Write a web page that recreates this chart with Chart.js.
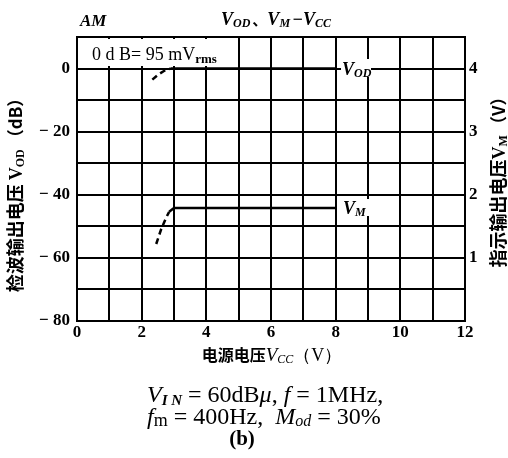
<!DOCTYPE html>
<html>
<head>
<meta charset="utf-8">
<script src="https://cdn.jsdelivr.net/npm/chart.js@4"></script>
<style>
  html, body { margin: 0; padding: 0; background: #fff; }
  #chart { display: block; }
</style>
</head>
<body>
<canvas id="chart" width="508" height="458"></canvas>
<script>
// V_OD (dB) vs Vcc, dashed part below ~2.9V
var vodX = [2.33, 2.5, 2.7, 2.9, 8];
var vodY = [-3.5, -2.0, -0.7, 0, 0];
// V_M (V, right axis) vs Vcc
var vmX = [2.45, 2.6, 2.75, 2.85, 3.0, 8];
var vmY = [1.22, 1.45, 1.63, 1.73, 1.79, 1.79];
var dashUntil = 2.9;

var xTicks = [0, 2, 4, 6, 8, 10, 12];
var leftTicks = [0, -20, -40, -60, -80];
var rightTicks = [1, 2, 3, 4];

var SERIF = '"Liberation Serif", "DejaVu Serif", serif';
var CJK = '"Noto Sans CJK SC", sans-serif';

function toPts(xs, ys) {
    var out = [];
    for (let i = 0; i < xs.length; i++) out.push({x: xs[i], y: ys[i]});
    return out;
}

function drawRich(ctx, x, y, parts, align) {
    var w = 0;
    parts.forEach(p => { ctx.font = p.f; p.w = ctx.measureText(p.t).width + (p.sp || 0); w += p.w; });
    var cx = align === 'center' ? x - w / 2 : (align === 'right' ? x - w : x);
    ctx.textAlign = 'left';
    ctx.textBaseline = 'alphabetic';
    parts.forEach(p => { ctx.font = p.f; ctx.fillText(p.t, cx, y + (p.dy || 0)); cx += p.w; });
}

var textPlugin = {
    id: 'texts',
    afterDraw(chart) {
        var ctx = chart.ctx;
        ctx.save();

        // white boxes behind in-plot labels
        ctx.fillStyle = '#fff';
        ctx.fillRect(80, 39, 152, 27);
        ctx.fillRect(341, 59, 30, 18);
        ctx.fillRect(341, 199, 28, 17);
        ctx.fillStyle = '#000';

        var bi = 'italic bold 18px ' + SERIF;
        var biS = 'italic bold 12px ' + SERIF;

        // top
        drawRich(ctx, 80, 26, [{t: 'AM', f: 'italic bold 17px ' + SERIF}], 'left');
        drawRich(ctx, 277, 25, [
            {t: 'V', f: bi}, {t: 'OD', f: biS, dy: 2, sp: 2}, {t: '、', f: 'bold 15px ' + CJK},
            {t: 'V', f: bi}, {t: 'M', f: biS, dy: 2, sp: 2}, {t: '−', f: bi},
            {t: 'V', f: bi}, {t: 'CC', f: biS, dy: 2, sp: 2}
        ], 'center');

        // 0 dB annotation
        drawRich(ctx, 92, 60, [
            {t: '0 d B= 95 mV', f: '18px ' + SERIF}, {t: 'rms', f: 'bold 13px ' + SERIF, dy: 3}
        ], 'left');

        // line labels
        drawRich(ctx, 342, 75, [{t: 'V', f: bi}, {t: 'OD', f: biS, dy: 2, sp: 1}], 'left');
        drawRich(ctx, 343, 214, [{t: 'V', f: bi}, {t: 'M', f: biS, dy: 2}], 'left');

        // x axis title
        drawRich(ctx, 272, 361, [
            {t: '电源电压', f: 'bold 16px ' + CJK},
            {t: 'V', f: 'italic 19px ' + SERIF}, {t: 'CC', f: 'italic 12px ' + SERIF, dy: 2},
            {t: '（V）', f: '18px ' + SERIF}
        ], 'center');

        // left y title
        ctx.save();
        ctx.translate(22, 191);
        ctx.rotate(-Math.PI / 2);
        drawRich(ctx, 0, 0, [
            {t: '检波输出电压 ', f: 'bold 18px ' + CJK},
            {t: 'V', f: 'bold 18px ' + SERIF}, {t: 'OD', f: 'bold 12px ' + SERIF, dy: 2, sp: 3},
            {t: '（dB）', f: 'bold 17px ' + CJK}
        ], 'center');
        ctx.restore();

        // right y title
        ctx.save();
        ctx.translate(505, 178);
        ctx.rotate(-Math.PI / 2);
        drawRich(ctx, 0, 0, [
            {t: '指示输出电压', f: 'bold 18px ' + CJK},
            {t: 'V', f: 'bold 18px ' + SERIF}, {t: 'M', f: 'bold 12px ' + SERIF, dy: 2, sp: 2},
            {t: '（V）', f: 'bold 17px ' + CJK}
        ], 'center');
        ctx.restore();

        // conditions
        var n = '24px ' + SERIF, it = 'italic 24px ' + SERIF, itS = 'italic 16px ' + SERIF;
        drawRich(ctx, 147, 402, [
            {t: 'V', f: it}, {t: 'I N', f: 'italic bold 15px ' + SERIF, dy: 3},
            {t: ' = 60dB', f: n}, {t: 'μ', f: it}, {t: ', ', f: n},
            {t: 'f', f: it}, {t: ' = 1MHz,', f: n}
        ], 'left');
        drawRich(ctx, 147, 424, [
            {t: 'f', f: it}, {t: 'm', f: '18px ' + SERIF, dy: 2},
            {t: ' = 400Hz,  ', f: n},
            {t: 'M', f: it}, {t: 'od', f: itS, dy: 2}, {t: ' = 30%', f: n}
        ], 'left');
        drawRich(ctx, 242, 445, [{t: '(b)', f: 'bold 21px ' + SERIF}], 'center');

        ctx.restore();
    }
};

var tickFont = {family: SERIF, size: 17, weight: 'bold'};

var data = {
    datasets: [{
        label: 'V_OD',
        data: toPts(vodX, vodY),
        yAxisID: 'y',
        borderColor: '#000',
        borderWidth: 2.5,
        pointRadius: 0,
        fill: false,
        segment: {
            borderDash: ctx => ctx.p1.parsed.x <= dashUntil ? [6, 4] : undefined
        }
    }, {
        label: 'V_M',
        data: toPts(vmX, vmY),
        yAxisID: 'y2',
        borderColor: '#000',
        borderWidth: 2.5,
        pointRadius: 0,
        fill: false,
        segment: {
            borderDash: ctx => ctx.p1.parsed.x <= 2.85 ? [6, 4] : undefined
        }
    }]
};

var config = {
    type: 'line',
    data: data,
    options: {
        responsive: false,
        animation: false,
        layout: {padding: {top: 37, left: 0, right: 0, bottom: 0}},
        plugins: {legend: {display: false}, tooltip: {enabled: false}},
        scales: {
            x: {
                type: 'linear', min: 0, max: 12,
                afterFit: s => { s.height = 137; },
                grid: {color: '#000', lineWidth: 2, drawTicks: false},
                border: {color: '#000', width: 2},
                ticks: {
                    stepSize: 1, autoSkip: false, maxRotation: 0, padding: 1,
                    color: '#000', font: tickFont,
                    callback: v => xTicks.includes(v) ? String(v) : ''
                }
            },
            y: {
                position: 'left', min: -80, max: 10,
                afterFit: s => { s.width = 77; },
                grid: {color: '#000', lineWidth: 2, drawTicks: false},
                border: {color: '#000', width: 2},
                ticks: {
                    stepSize: 10, autoSkip: false, padding: 7,
                    color: '#000', font: tickFont,
                    callback: v => leftTicks.includes(v) ? (v < 0 ? '− ' + (-v) : '0') : ''
                }
            },
            y2: {
                position: 'right', min: 0, max: 4.5,
                afterFit: s => { s.width = 43; },
                grid: {display: false, drawTicks: false},
                border: {color: '#000', width: 2},
                ticks: {
                    stepSize: 0.5, autoSkip: false, padding: 4,
                    color: '#000', font: tickFont,
                    callback: v => rightTicks.includes(v) ? String(v) : ''
                }
            }
        }
    },
    plugins: [textPlugin]
};

var myChart = new Chart(document.getElementById('chart'), config);
</script>
</body>
</html>
